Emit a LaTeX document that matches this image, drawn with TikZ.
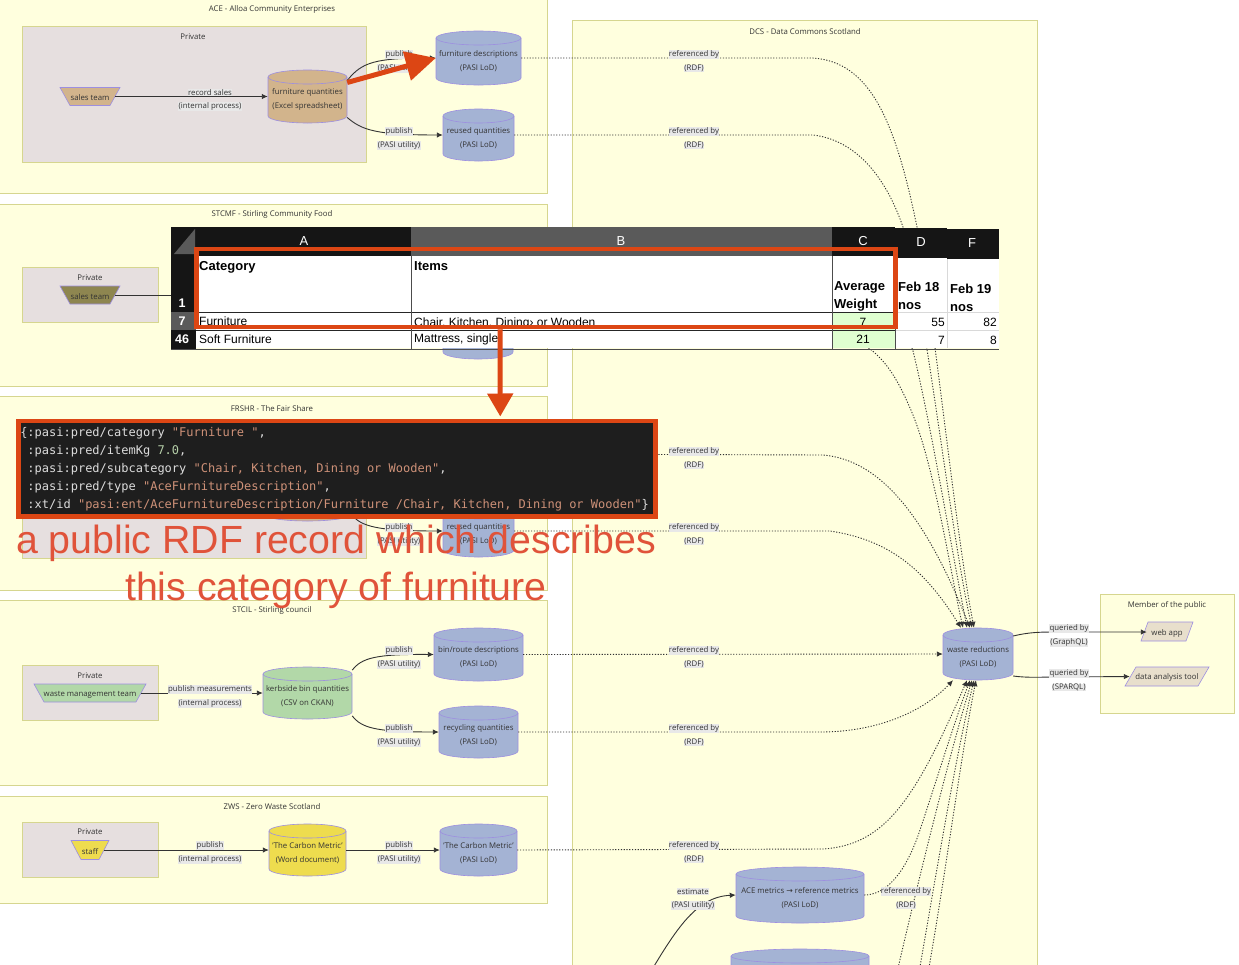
\documentclass[tikz,border=0pt]{standalone}
\usepackage{fontspec}
\setmainfont{Open Sans}
\newfontfamily\codefont{DejaVu Sans Mono}
\newfontfamily\sheetfont{Liberation Sans}
\newfontfamily\symfont{DejaVu Sans}
\usetikzlibrary{arrows.meta,calc}
\definecolor{clfill}{HTML}{FFFFDE}
\definecolor{clline}{HTML}{D6D68F}
\definecolor{prfill}{HTML}{E6DFDF}
\definecolor{nodeline}{HTML}{9D8FE0}
\definecolor{blue1}{HTML}{A4B3D4}
\definecolor{tan1}{HTML}{D2B48C}
\definecolor{green1}{HTML}{B2D8A8}
\definecolor{yellow1}{HTML}{EEDC4E}
\definecolor{olive1}{HTML}{8E8650}
\definecolor{beige1}{HTML}{E8DFCC}
\definecolor{ink}{HTML}{333333}
\definecolor{labelbg}{HTML}{E8E8E8}
\definecolor{mark1}{HTML}{DC4614}
\definecolor{bigred}{HTML}{E0533A}
\definecolor{codebg}{HTML}{1E1E1E}
\definecolor{codekey}{HTML}{DCDCDC}
\definecolor{codestr}{HTML}{CE9178}
\definecolor{codenum}{HTML}{B5CEA8}
\definecolor{sheetdark}{HTML}{151515}
\definecolor{sheetgrey}{HTML}{5A5A5A}
\definecolor{sheetgreen}{HTML}{DFFFD0}
\tikzset{
  cluster/.style={draw=clline,fill=clfill,line width=0.9pt},
  privatebox/.style={draw=clline,fill=prfill,line width=1pt},
  small/.style={font=\fontsize{7.8}{14}\selectfont,text=ink,align=center,inner sep=0pt},
  title/.style={small,yshift=-1.5pt},
  elabel/.style={small,fill=labelbg,inner sep=0.4pt,yshift=-1.5pt},
  edge/.style={draw=ink,line width=0.9pt,-{Latex[length=6pt,width=5.5pt]}},
  refedge/.style={draw=ink,line width=0.9pt,dash pattern=on 1.2pt off 1.6pt,-{Latex[length=6pt,width=5.5pt]}},
  outline/.style={draw=nodeline,line width=0.6pt},
  sheet/.style={font=\sheetfont\fontsize{12}{18}\selectfont,inner sep=0pt,text=black},
  sheeth/.style={sheet,font=\sheetfont\bfseries\fontsize{13}{18}\selectfont},
  sheetw/.style={sheet,text=white,font=\sheetfont\bfseries\fontsize{12.5}{18}\selectfont},
  sheetl/.style={sheet,text=white,font=\sheetfont\fontsize{13}{18}\selectfont},
  marker/.style={draw=mark1,line width=4.5pt},
}
% name, x0,y0,x1,y1, fill, text
\newcommand{\cylnode}[7]{%
  \pgfmathsetmacro{\myrx}{(#4-#2)/2}%
  \pgfmathsetmacro{\mycx}{(#4+#2)/2}%
  \pgfmathsetmacro{\mycy}{(#5+#3)/2}%
  \pgfmathsetmacro{\mywd}{#4-#2}%
  \pgfmathsetmacro{\myht}{#5-#3}%
  \draw[outline,fill=#6] (#2,#3+7) -- (#2,#5-7) arc[start angle=180,end angle=360,x radius=\myrx pt,y radius=7pt] -- (#4,#3+7) arc[start angle=0,end angle=180,x radius=\myrx pt,y radius=7pt] -- cycle;
  \draw[outline] (#2,#3+7) arc[start angle=180,end angle=360,x radius=\myrx pt,y radius=7pt];
  \node[small,minimum width=\mywd pt,minimum height=\myht pt] (#1) at (\mycx,\mycy) {};
  \node[small,yshift=-3pt] (#1t) at (#1) {#7};
}
% name, cx,cy, half top, half bottom, half height, fill, text
\newcommand{\polynode}[8]{%
  \draw[outline,fill=#7] (#2-#4,#3-#6) -- (#2+#4,#3-#6) -- (#2+#5,#3+#6) -- (#2-#5,#3+#6) -- cycle;
  \pgfmathsetmacro{\mywd}{#4+#5}%
  \pgfmathsetmacro{\myht}{2*#6}%
  \node[small,minimum width=\mywd pt,minimum height=\myht pt] (#1) at (#2,#3) {};
  \node[small,yshift=-1.5pt] (#1t) at (#1) {#8};
}
% name, cx, y of first line, line 1, line 2
\newcommand{\edgelab}[5]{%
  \node[elabel] (#1a) at (#2,#3) {#4};
  \node[elabel] (#1b) at (#2,#3+14) {#5};
}
\begin{document}
\begin{tikzpicture}[x=1pt,y=-1pt]
\useasboundingbox[fill=white] (0,0) rectangle (1239,964);
% clusters
\path[cluster] (-5,-5) rectangle (547,193);
\path[cluster] (-5,204) rectangle (547,386);
\path[cluster] (-5,396) rectangle (547,590);
\path[cluster] (-5,600) rectangle (547,785);
\path[cluster] (-5,796) rectangle (547,903);
\path[cluster] (572,20) rectangle (1037,985);
\path[cluster] (1100,594) rectangle (1234,713);
\node[title] (tace) at (272,8) {ACE - Alloa Community Enterprises};
\node[title] (tstcmf) at (272,213) {STCMF - Stirling Community Food};
\node[title] (tfrshr) at (272,407) {FRSHR - The Fair Share};
\node[title] (tstcil) at (272,609) {STCIL - Stirling council};
\node[title] (tzws) at (272,805) {ZWS - Zero Waste Scotland};
\node[title] (tdcs) at (805,30) {DCS - Data Commons Scotland};
\node[title] (tpub) at (1167,604) {Member of the public};
% private boxes
\path[privatebox] (22,26) rectangle (366,162);
\path[privatebox] (22,267) rectangle (158,322);
\path[privatebox] (22,490) rectangle (366,558);
\path[privatebox] (22,665) rectangle (158,720);
\path[privatebox] (22,822) rectangle (158,877);
\node[title] (p1) at (193,35) {Private};
\node[title] (p2) at (90,276) {Private};
\node[title] (p4) at (90,674) {Private};
\node[title] (p5) at (90,830) {Private};
% nodes
\polynode{ast}{90}{96.5}{30}{20}{9}{tan1}{sales team}
\cylnode{afq}{268}{70}{347}{123}{tan1}{furniture quantities\\(Excel spreadsheet)}
\cylnode{afd}{436}{31}{521}{85}{blue1}{furniture descriptions\\(PASI LoD)}
\cylnode{aru}{443}{109}{514}{161}{blue1}{reused quantities\\(PASI LoD)}
\polynode{sst}{90}{295}{30}{20}{9}{olive1}{sales team}
\cylnode{sfq}{268}{269}{347}{321}{tan1}{}
\cylnode{sd1}{443}{230}{513}{282}{blue1}{}
\cylnode{sd2}{443}{307}{513}{359}{blue1}{}
\cylnode{ffq}{263}{468}{352}{521}{tan1}{}
\cylnode{fd1}{436}{428}{521}{480}{blue1}{}
\cylnode{fd2}{443}{505}{514}{557}{blue1}{reused quantities\\(PASI LoD)}
\polynode{cwm}{90}{693}{56}{46}{9}{green1}{waste management team}
\cylnode{ckb}{263}{667}{352}{719}{green1}{kerbside bin quantities\\(CSV on CKAN)}
\cylnode{cbr}{434}{628}{523}{681}{blue1}{bin/route descriptions\\(PASI LoD)}
\cylnode{crq}{439}{706}{518}{758}{blue1}{recycling quantities\\(PASI LoD)}
\polynode{zst}{90}{850}{19}{9}{9.5}{yellow1}{staff}
\cylnode{zdoc}{269}{824}{346}{876}{yellow1}{'The Carbon Metric'\\(Word document)}
\cylnode{zlod}{440}{824}{517}{876}{blue1}{'The Carbon Metric'\\(PASI LoD)}
\cylnode{wr}{943}{628}{1013}{680}{blue1}{waste reductions\\(PASI LoD)}
\cylnode{acm}{736}{867}{864}{923}{blue1}{ACE metrics {\symfont →} reference metrics\\(PASI LoD)}
\cylnode{low}{731}{949}{869}{1003}{blue1}{}
\draw[outline,fill=beige1] (1148,622) -- (1193,622) -- (1186,641) -- (1141,641) -- cycle;
\node[small,minimum width=40pt,minimum height=19pt] (web) at (1167,632) {};
\node[small,yshift=-1pt] (webt) at (web) {web app};
\draw[outline,fill=beige1] (1136,667) -- (1209,667) -- (1198,686) -- (1125,686) -- cycle;
\node[small,minimum width=74pt,minimum height=19pt] (dat) at (1167,676.5) {};
\node[small,yshift=-1pt] (datt) at (dat) {data analysis tool};
\coordinate (offa) at (640,990);
\coordinate (offb) at (893,990);
\coordinate (offc) at (916,990);
\coordinate (offd) at (925,990);
% solid edges
\draw[edge] (ast.east) -- (afq.west);
\draw[edge] ([yshift=16pt]afq.east) .. controls (362,62) and (375,58) .. (afd.west);
\draw[edge] ([yshift=-21pt]afq.east) .. controls (362,130) and (375,135) .. (aru.west);
\draw[edge] (sst.east) -- (sfq.west);
\draw[edge] ([yshift=-21pt]ffq.east) .. controls (362,526) and (375,531) .. (fd2.west);
\draw[edge] (cwm.east) -- (ckb.west);
\draw[edge] ([yshift=23pt]ckb.east) .. controls (362,658) and (375,654) .. (cbr.west);
\draw[edge] ([yshift=-23pt]ckb.east) .. controls (362,728) and (375,732) .. (crq.west);
\draw[edge] (zst.east) -- (zdoc.west);
\draw[edge] (zdoc.east) -- (zlod.west);
\draw[edge] ([yshift=18pt]wr.east) .. controls (1030,632) and (1040,632) .. (1060,632) -- (web.west);
\draw[edge] ([yshift=-22pt]wr.east) .. controls (1028,678) and (1040,677) .. (1060,677) -- (dat.west);
\draw[edge] (offa) .. controls (675,930) and (695,897) .. (acm.west);
% referenced-by edges
\draw[refedge] (afd.east) -- (813,58) .. controls (870,62) and (895,120) .. (917,227) .. controls (932,300) and (955,530) .. ([xshift=-4pt]wr.north);
\draw[refedge] (aru.east) -- (813,135) .. controls (855,140) and (885,175) .. (903,227) .. controls (925,300) and (950,530) .. ([xshift=-6pt]wr.north);
\draw[refedge] (sd2.east) -- (830,333) .. controls (877,340) and (895,372) .. (913,415) .. controls (935,470) and (950,570) .. ([xshift=-15pt]wr.north);
\draw[refedge] (sd1.east) -- (820,256) .. controls (870,260) and (895,300) .. (913,351) .. controls (930,420) and (950,540) .. ([xshift=-11pt]wr.north);
\draw[refedge] (fd1.east) -- (823,455) .. controls (880,460) and (925,515) .. ([xshift=-8pt]wr.north);
\draw[refedge] (fd2.east) -- (830,531) .. controls (890,540) and (925,570) .. ([xshift=-17pt]wr.north);
\draw[refedge] (cbr.east) -- (wr.west);
\draw[refedge] (crq.east) -- (820,732) .. controls (880,732) and (925,710) .. ([xshift=-25pt]wr.south);
\draw[refedge] (zlod.east) -- (823,849) .. controls (885,845) and (915,800) .. ([xshift=-11pt]wr.south);
\draw[refedge] (acm.east) .. controls (885,895) and (905,875) .. (920,830) .. controls (935,785) and (955,720) .. ([xshift=-8pt]wr.south);
\draw[refedge] (offb) .. controls (910,915) and (945,770) .. ([xshift=-6pt]wr.south);
\draw[refedge] (offc) .. controls (935,880) and (955,760) .. ([xshift=-4pt]wr.south);
\draw[refedge] (offd) .. controls (945,880) and (960,760) .. ([xshift=-2pt]wr.south);
% edge labels
\edgelab{la1}{210}{91}{record sales}{(internal process)}
\edgelab{la2}{399}{53}{publish}{(PASI utility)}
\edgelab{la3}{399}{130}{publish}{(PASI utility)}
\edgelab{la4}{694}{53}{referenced by}{(RDF)}
\edgelab{la5}{694}{130}{referenced by}{(RDF)}
\edgelab{lf1}{399}{526}{publish}{(PASI utility)}
\edgelab{lf2}{694}{450}{referenced by}{(RDF)}
\edgelab{lf3}{694}{526}{referenced by}{(RDF)}
\edgelab{lc1}{210}{688}{publish measurements}{(internal process)}
\edgelab{lc2}{399}{649}{publish}{(PASI utility)}
\edgelab{lc3}{399}{727}{publish}{(PASI utility)}
\edgelab{lc4}{694}{649}{referenced by}{(RDF)}
\edgelab{lc5}{694}{727}{referenced by}{(RDF)}
\edgelab{lz1}{210}{844}{publish}{(internal process)}
\edgelab{lz2}{399}{844}{publish}{(PASI utility)}
\edgelab{lz3}{694}{844}{referenced by}{(RDF)}
\edgelab{ld1}{693}{890}{estimate}{(PASI utility)}
\edgelab{ld2}{906}{890}{referenced by}{(RDF)}
\edgelab{lw1}{1069}{627}{queried by}{(GraphQL)}
\edgelab{lw2}{1069}{672}{queried by}{(SPARQL)}
% spreadsheet
\fill[sheetdark] (171,227) rectangle (895,256);
\fill[sheetdark] (171,256) rectangle (196,349);
\fill[sheetgrey] (411,227) rectangle (832,256);
\fill[sheetgrey] (171,312) rectangle (196,330);
\fill[sheetgrey] (174,254) -- (195,254) -- (195,229) -- cycle;
\fill[sheetdark] (895,228) rectangle (947,258);
\fill[sheetdark] (947,229) rectangle (999,259);
\fill[white] (196,256) rectangle (895,348);
\fill[white] (895,258) rectangle (947,348);
\fill[white] (947,259) rectangle (999,348);
\fill[sheetgreen] (832,313) rectangle (895,348);
\draw[black!85,line width=0.8pt] (196,312.5) -- (895,312.5);
\draw[black!85,line width=0.8pt] (196,330.5) -- (895,330.5);
\draw[black!70,line width=1pt] (171,349) -- (999,349);
\draw[black!15,line width=0.8pt] (895,312.5) -- (999,312.5);
\draw[black!15,line width=0.8pt] (895,330.5) -- (999,330.5);
\draw[black!15,line width=0.8pt] (947,259) -- (947,348);
\draw[black!70,line width=0.8pt] (411.5,256) -- (411.5,349);
\draw[black!70,line width=0.8pt] (832,256) -- (832,349);
\draw[black!70,line width=0.8pt] (895,313) -- (895,349);
\node[sheetl] (ha) at (304,241) {A};
\node[sheetl] (hb) at (621,241) {B};
\node[sheetl] (hc) at (863,241) {C};
\node[sheetl] (hd) at (921,242) {D};
\node[sheetl] (hf) at (972,243) {F};
\node[sheetw] (r1) at (182,303) {1};
\node[sheetw] (r7) at (182,321) {7};
\node[sheetw] (r46) at (182,339) {46};
\node[sheeth,anchor=base west] (ccat) at (199,270.5) {Category};
\node[sheeth,anchor=base west] (cit) at (414,270.5) {Items};
\node[sheeth,anchor=west,align=left] (cav) at (834,296) {Average\\Weight};
\node[sheeth,anchor=west,align=left] (cd) at (898,295.5) {Feb 18\\nos};
\node[sheeth,anchor=west,align=left] (cf) at (950,297.5) {Feb 19\\nos};
\node[sheet,anchor=west] (c1) at (199,321) {Furniture};
\node[sheet,anchor=west] (c2) at (414,323) {Chair, Kitchen, Dining› or Wooden};
\node[sheet] (c3) at (863,322) {7};
\node[sheet,anchor=east] (c4) at (945,322) {55};
\node[sheet,anchor=east] (c5) at (997,322) {82};
\node[sheet,anchor=west] (d1) at (199,339) {Soft Furniture};
\node[sheet,anchor=west] (d2) at (414,339) {Mattress, single};
\node[sheet] (d3) at (863,339) {21};
\node[sheet,anchor=east] (d4) at (945,340) {7};
\node[sheet,anchor=east] (d5) at (997,340) {8};
% code box
\node[marker,fill=codebg,inner sep=0pt,anchor=north west,minimum width=637pt,minimum height=95.5pt,text width=633pt,align=left,text=codekey,
  font=\codefont\fontsize{12}{18}\selectfont] (code) at (16,418.5) {\spaceskip=7.224pt\relax\xspaceskip=7.224pt\relax
\rule{0pt}{10pt}\{:pasi:pred/category \textcolor{codestr}{"Furniture "},\\
\hspace*{7.224pt}:pasi:pred/itemKg \textcolor{codenum}{7.0},\\
\hspace*{7.224pt}:pasi:pred/subcategory \textcolor{codestr}{"Chair, Kitchen, Dining or Wooden"},\\
\hspace*{7.224pt}:pasi:pred/type \textcolor{codestr}{"AceFurnitureDescription"},\\
\hspace*{7.224pt}:xt/id \textcolor{codestr}{"pasi:ent/AceFurnitureDescription/Furniture /Chair, Kitchen, Dining or Wooden"}\}};
% selection and markers
\node[marker,inner sep=0pt,minimum width=699pt,minimum height=78pt] (sel) at (546,288) {};
\draw[draw=mark1,line width=5pt,-{Triangle[length=23pt,width=25pt]}] ([xshift=-46pt]sel.south) -- ([xshift=163.5pt,yshift=2pt]code.north);
\draw[draw=mark1,line width=5pt,-{Triangle[length=30pt,width=29pt]}] ([yshift=14pt]afq.east) -- (afd.west);
% big captions
\node[inner sep=0pt,text=bigred,font=\sheetfont\fontsize{39.3}{46}\selectfont] (cap1) at (336,543) {a public RDF record which describes};
\node[inner sep=0pt,text=bigred,font=\sheetfont\fontsize{39.3}{46}\selectfont] (cap2) at (336,590) {this category of furniture};
\end{tikzpicture}
\end{document}
